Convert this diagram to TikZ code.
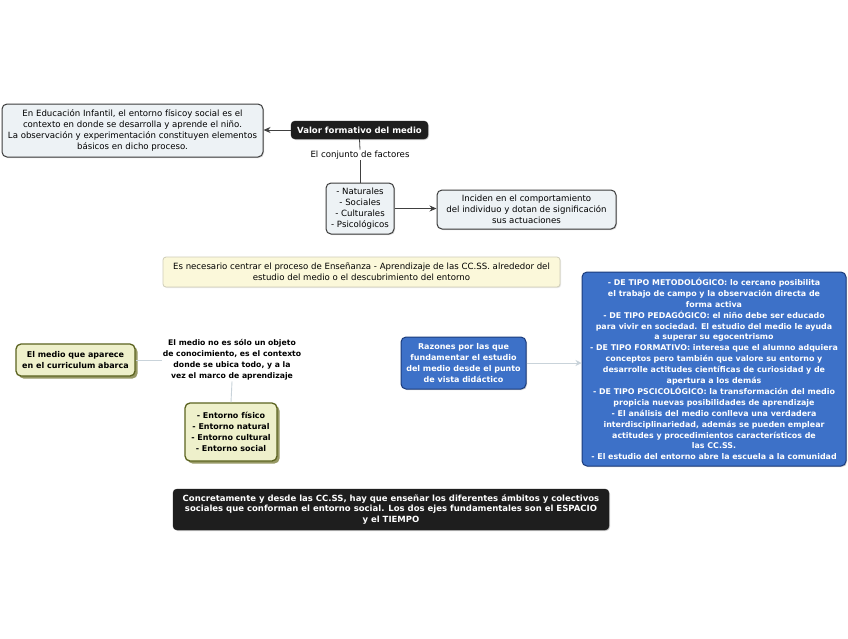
\documentclass[tikz,border=0pt]{standalone}
\usepackage{fontspec}
\setmainfont{DejaVu Sans}
\usetikzlibrary{shadows,arrows.meta}
\definecolor{boxfill}{HTML}{EDF2F5}
\definecolor{boxdraw}{HTML}{3C3C3C}
\definecolor{yelfill}{HTML}{FBF8DA}
\definecolor{yeldraw}{HTML}{CFCDB8}
\definecolor{olfill}{HTML}{EEF0CB}
\definecolor{oldraw}{HTML}{5B6320}
\definecolor{olshadow}{HTML}{8C8F55}
\definecolor{bluefill}{HTML}{3D71C8}
\definecolor{bluedraw}{HTML}{1C3C7C}
\definecolor{darkbox}{HTML}{1E1E1E}
\definecolor{lightline}{HTML}{C9D3DA}
\begin{document}
\begin{tikzpicture}[x=1pt,y=-1pt,
  txt/.style={font=\fontsize{8.6}{10.9}\selectfont, align=center, inner sep=1pt},
  btxt/.style={font=\fontsize{8}{10.9}\selectfont\bfseries, align=center, inner sep=1pt},
  plainbox/.style={txt, draw=boxdraw, fill=boxfill, line width=1pt, rounded corners=5pt,
     drop shadow={shadow xshift=1pt, shadow yshift=-1pt, fill=black!25, opacity=0.6}},
  darkbox/.style={btxt, font=\fontsize{8.5}{10.9}\selectfont\bfseries, text=white, fill=darkbox, draw=darkbox, rounded corners=4pt,
     drop shadow={shadow xshift=1pt, shadow yshift=-1pt, fill=black!30, opacity=0.6}},
  yelbox/.style={txt, fill=yelfill, draw=yeldraw, line width=0.8pt, rounded corners=3pt,
     drop shadow={shadow xshift=1pt, shadow yshift=-1pt, fill=black!15, opacity=0.6}},
  olbox/.style={btxt, fill=olfill, draw=oldraw, line width=1.3pt, rounded corners=5pt,
     drop shadow={shadow xshift=2.5pt, shadow yshift=-2.5pt, fill=olshadow, opacity=0.9}},
  bluebox/.style={btxt, font=\fontsize{7.9}{10.9}\selectfont\bfseries, text=white, fill=bluefill, draw=bluedraw, line width=1pt, rounded corners=5pt,
     drop shadow={shadow xshift=1pt, shadow yshift=-1pt, fill=black!30, opacity=0.6}},
  darkline/.style={draw=black!75, line width=0.8pt},
  softline/.style={draw=lightline, line width=0.9pt},
]
\useasboundingbox (0,0) rectangle (848,638);
\fill[white] (0,0) rectangle (848,638);

\node[plainbox, minimum width=261pt, minimum height=53pt] (left) at (132.5,130.5)
  {En Educación Infantil, el entorno físicoy social es el\\contexto en donde se desarrolla y aprende el niño.\\La observación y experimentación constituyen elementos\\básicos en dicho proceso.};
\node[darkbox, minimum width=137pt, minimum height=18pt] (valor) at (359.5,130) {Valor formativo del medio};
\node[txt, fill=white] (conj) at (360,155) {El conjunto de factores};
\node[plainbox, minimum width=68pt, minimum height=51pt] (fact) at (360,208.5)
  {- Naturales\\- Sociales\\- Culturales\\- Psicológicos};
\node[plainbox, minimum width=179pt, minimum height=39pt] (inc) at (526.5,209.5)
  {Inciden en el comportamiento\\del individuo y dotan de significación\\sus actuaciones};
\node[yelbox, minimum width=397pt, minimum height=30pt] (yel) at (361.5,272)
  {Es necesario centrar el proceso de Enseñanza - Aprendizaje de las CC.SS. alrededor del\\estudio del medio o el descubrimiento del entorno};

\node[olbox, minimum width=119pt, minimum height=32pt] (cur) at (75.5,360)
  {El medio que aparece\\en el curriculum abarca};
\node[btxt, font=\fontsize{7.7}{10.9}\selectfont\bfseries, fill=white] (medio) at (232,360)
  {El medio no es sólo un objeto\\de conocimiento, es el contexto\\donde se ubica todo, y a la\\vez el marco de aprendizaje};
\node[olbox, minimum width=92pt, minimum height=58pt] (ent) at (231,432)
  {- Entorno físico\\- Entorno natural\\- Entorno cultural\\- Entorno social};

\node[bluebox, font=\fontsize{8}{10.9}\selectfont\bfseries, minimum width=125pt, minimum height=52pt] (raz) at (463.5,363)
  {Razones por las que\\fundamentar el estudio\\del medio desde el punto\\de vista didáctico};
\node[bluebox, minimum width=264pt, minimum height=194pt] (big) at (714,369)
  {- DE TIPO METODOLÓGICO: lo cercano posibilita\\el trabajo de campo y la observación directa de\\forma activa\\- DE TIPO PEDAGÓGICO: el niño debe ser educado\\para vivir en sociedad. El estudio del medio le ayuda\\a superar su egocentrismo\\- DE TIPO FORMATIVO: interesa que el alumno adquiera\\conceptos pero también que valore su entorno y\\desarrolle actitudes científicas de curiosidad y de\\apertura a los demás\\- DE TIPO PSCICOLÓGICO: la transformación del medio\\propicia nuevas posibilidades de aprendizaje\\- El análisis del medio conlleva una verdadera\\interdisciplinariedad, además se pueden emplear\\actitudes y procedimientos característicos de\\las CC.SS.\\- El estudio del entorno abre la escuela a la comunidad};

\node[darkbox, minimum width=436pt, minimum height=41pt] (bot) at (391,509.5)
  {Concretamente y desde las CC.SS, hay que enseñar los diferentes ámbitos y colectivos\\sociales que conforman el entorno social. Los dos ejes fundamentales son el ESPACIO\\y el TIEMPO};

\draw[darkline, -{Stealth[length=7pt,width=6pt]}] (valor.west) -- (valor.west -| left.east);
\draw[darkline] (valor.south) -- (conj.north);
\draw[darkline] (conj.south) -- (fact.north);
\draw[darkline, -{Stealth[length=7pt,width=6pt]}] (fact.east) -- (fact.east -| inc.west);
\draw[softline] (cur.east) -- (medio.west);
\draw[softline] (medio.south) -- (ent.north);
\draw[softline, -{Stealth[length=6pt,width=6pt]}] (raz.east) -- (raz.east -| big.west);
\end{tikzpicture}
\end{document}
